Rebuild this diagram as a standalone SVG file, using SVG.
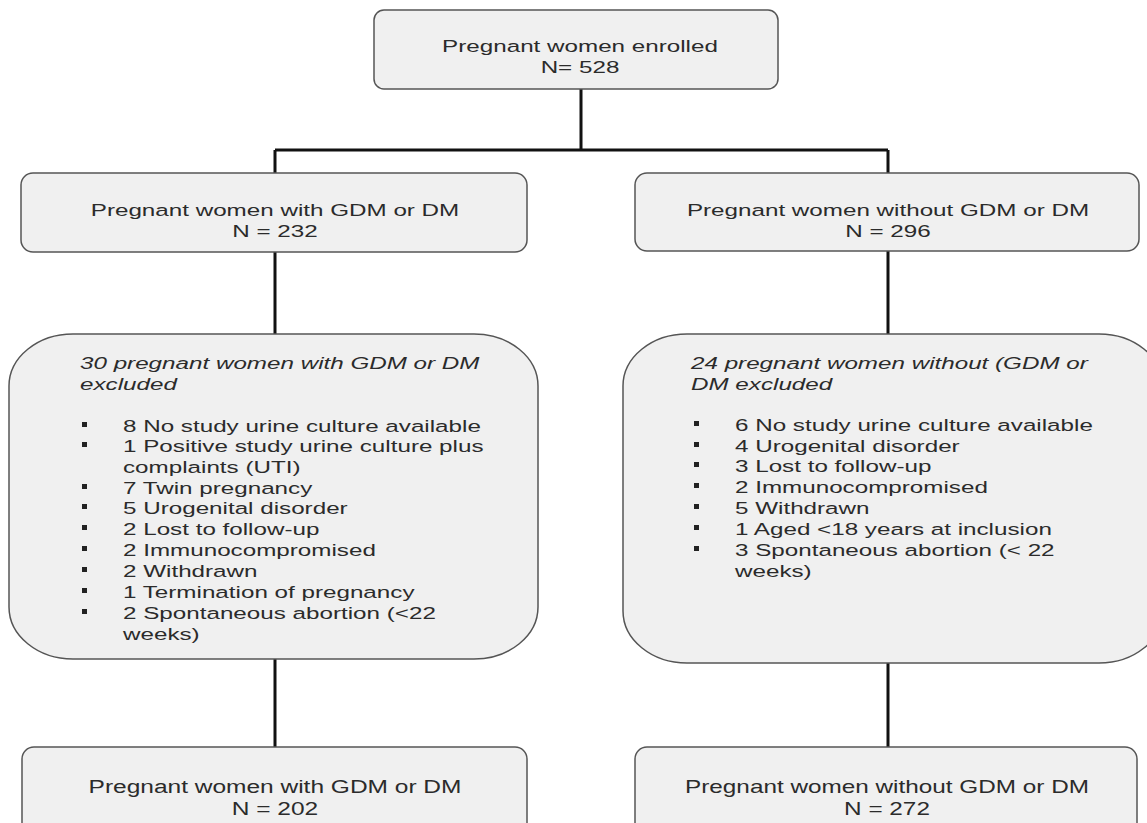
<svg xmlns="http://www.w3.org/2000/svg" width="1147" height="823" viewBox="0 0 1147 823">
<style>
.t{font-family:"Liberation Sans",Arial,sans-serif;font-size:17px;fill:#2b2b2b}
.b{font-size:19px}
.c{text-anchor:middle}
.i{font-style:italic}
.box{fill:#f0f0f0;stroke:#555;stroke-width:1.5}
.conn{stroke:#111;stroke-width:3;fill:none}
.bul{fill:#222}
</style>
<rect width="1147" height="823" fill="#fff"/>
<g id="connectors">
<path class="conn" d="M581 89 V150 M275 150 H888 M275 150 V173 M888 150 V173"/>
<path class="conn" d="M275 252 V334 M888 251 V334"/>
<path class="conn" d="M275 659 V747 M888 663 V747"/>
</g>
<g id="n-enrolled">
<rect class="box" x="374" y="10" width="404" height="79" rx="10"/>
<text class="t c" transform="translate(580,52) scale(1.425,1)">Pregnant women enrolled</text>
<text class="t c" transform="translate(580,73) scale(1.425,1)">N= 528</text>
</g>
<g id="n-gdm">
<rect class="box" x="21" y="173" width="506" height="79" rx="12"/>
<text class="t c" transform="translate(275,216) scale(1.425,1)">Pregnant women with GDM or DM</text>
<text class="t c" transform="translate(275,237) scale(1.425,1)">N = 232</text>
</g>
<g id="n-nogdm">
<rect class="box" x="635" y="173" width="504" height="78" rx="12"/>
<text class="t c" transform="translate(888,216) scale(1.425,1)">Pregnant women without GDM or DM</text>
<text class="t c" transform="translate(888,237) scale(1.425,1)">N = 296</text>
</g>
<g id="n-excl-gdm">
<rect class="box" x="9" y="334" width="529" height="325" rx="64" ry="52"/>
<text class="t i" transform="translate(80,369) scale(1.425,1)">30 pregnant women with GDM or DM</text>
<text class="t i" transform="translate(80,390) scale(1.425,1)">excluded</text>
<rect class="bul" x="82" y="422" width="5" height="5"/>
<rect class="bul" x="82" y="442" width="5" height="5"/>
<rect class="bul" x="82" y="484" width="5" height="5"/>
<rect class="bul" x="82" y="504" width="5" height="5"/>
<rect class="bul" x="82" y="525" width="5" height="5"/>
<rect class="bul" x="82" y="546" width="5" height="5"/>
<rect class="bul" x="82" y="567" width="5" height="5"/>
<rect class="bul" x="82" y="588" width="5" height="5"/>
<rect class="bul" x="82" y="609" width="5" height="5"/>
<text class="t" transform="translate(123,432) scale(1.425,1)">8 No study urine culture available</text>
<text class="t" transform="translate(123,452) scale(1.425,1)">1 Positive study urine culture plus</text>
<text class="t" transform="translate(123,473) scale(1.425,1)">complaints (UTI)</text>
<text class="t" transform="translate(123,494) scale(1.425,1)">7 Twin pregnancy</text>
<text class="t" transform="translate(123,514) scale(1.425,1)">5 Urogenital disorder</text>
<text class="t" transform="translate(123,535) scale(1.425,1)">2 Lost to follow-up</text>
<text class="t" transform="translate(123,556) scale(1.425,1)">2 Immunocompromised</text>
<text class="t" transform="translate(123,577) scale(1.425,1)">2 Withdrawn</text>
<text class="t" transform="translate(123,598) scale(1.425,1)">1 Termination of pregnancy</text>
<text class="t" transform="translate(123,619) scale(1.425,1)">2 Spontaneous abortion (&lt;22</text>
<text class="t" transform="translate(123,640) scale(1.425,1)">weeks)</text>
</g>
<g id="n-excl-nogdm">
<rect class="box" x="623" y="334" width="540" height="329" rx="64" ry="52"/>
<text class="t i" transform="translate(691,369) scale(1.425,1)">24 pregnant women without (GDM or</text>
<text class="t i" transform="translate(691,390) scale(1.425,1)">DM excluded</text>
<rect class="bul" x="694" y="421" width="5" height="5"/>
<rect class="bul" x="694" y="442" width="5" height="5"/>
<rect class="bul" x="694" y="462" width="5" height="5"/>
<rect class="bul" x="694" y="483" width="5" height="5"/>
<rect class="bul" x="694" y="504" width="5" height="5"/>
<rect class="bul" x="694" y="525" width="5" height="5"/>
<rect class="bul" x="694" y="546" width="5" height="5"/>
<text class="t" transform="translate(735,431) scale(1.425,1)">6 No study urine culture available</text>
<text class="t" transform="translate(735,452) scale(1.425,1)">4 Urogenital disorder</text>
<text class="t" transform="translate(735,472) scale(1.425,1)">3 Lost to follow-up</text>
<text class="t" transform="translate(735,493) scale(1.425,1)">2 Immunocompromised</text>
<text class="t" transform="translate(735,514) scale(1.425,1)">5 Withdrawn</text>
<text class="t" transform="translate(735,535) scale(1.425,1)">1 Aged &lt;18 years at inclusion</text>
<text class="t" transform="translate(735,556) scale(1.425,1)">3 Spontaneous abortion (&lt; 22</text>
<text class="t" transform="translate(735,577) scale(1.425,1)">weeks)</text>
</g>
<g id="n-final-gdm">
<rect class="box" x="22" y="747" width="505" height="100" rx="12"/>
<text class="t b c" transform="translate(275,793) scale(1.29,1)">Pregnant women with GDM or DM</text>
<text class="t b c" transform="translate(275,815) scale(1.29,1)">N = 202</text>
</g>
<g id="n-final-nogdm">
<rect class="box" x="635" y="747" width="502" height="100" rx="12"/>
<text class="t b c" transform="translate(887,793) scale(1.28,1)">Pregnant women without GDM or DM</text>
<text class="t b c" transform="translate(887,815) scale(1.28,1)">N = 272</text>
</g>
</svg>
